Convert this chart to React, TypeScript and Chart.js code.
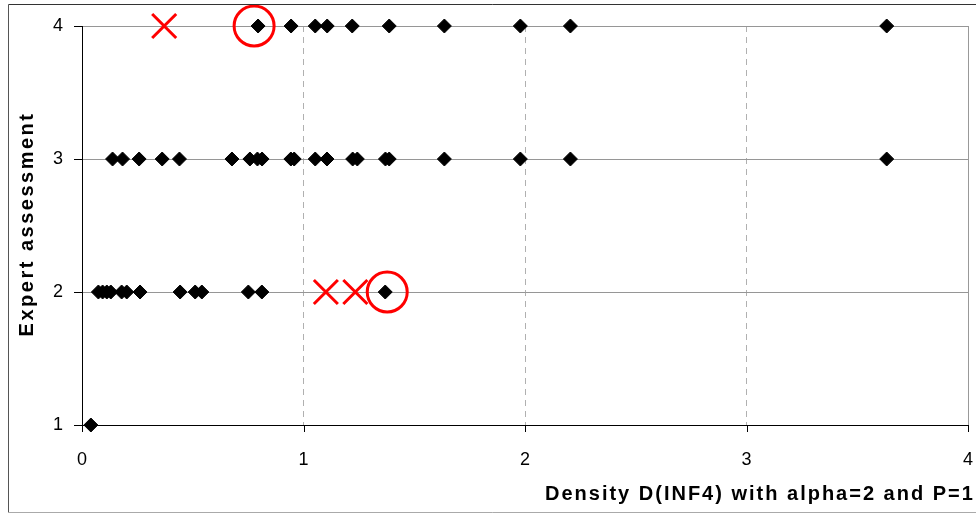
import React, { useEffect, useRef } from 'react';
import { Chart, registerables } from 'chart.js';

Chart.register(...registerables);

// Expert assessment levels and the densities observed at each level
const row4X = [0.795, 0.944, 1.053, 1.107, 1.22, 1.387, 1.636, 1.979, 2.205, 3.633];
const row3X = [0.138, 0.183, 0.258, 0.362, 0.44, 0.677, 0.758, 0.792, 0.813, 0.943, 0.958, 1.053, 1.106, 1.222, 1.243, 1.37, 1.387, 1.636, 1.979, 2.205, 3.633];
const row2X = [0.074, 0.093, 0.112, 0.13, 0.179, 0.202, 0.262, 0.443, 0.511, 0.541, 0.751, 0.812, 1.369];
const row1X = [0.04];

// Red annotation marks
const crossX = [0.371, 1.101, 1.234];
const crossY = [4, 2, 2];
const circleX = [0.777, 1.378];
const circleY = [4, 2];

const xTicks = [0, 1, 2, 3, 4];
const yTicks = [1, 2, 3, 4];
const xTitle = 'Density D(INF4) with alpha=2 and P=1';
const yTitle = 'Expert assessment';

const FONT = '"Liberation Sans", Arial, sans-serif';

const decorPlugin = {
  id: 'decor',
  beforeDatasetsDraw(chart: any) {
    const { ctx, chartArea } = chart;
    ctx.save();
    ctx.strokeStyle = '#999999';
    ctx.lineWidth = 1;
    ctx.beginPath();
    ctx.moveTo(Math.round(chartArea.right) + 0.5, chartArea.top);
    ctx.lineTo(Math.round(chartArea.right) + 0.5, chartArea.bottom);
    ctx.stroke();
    // x tick marks
    const xs = chart.scales.x;
    ctx.strokeStyle = '#000000';
    xTicks.forEach((v) => {
      const px = Math.round(xs.getPixelForValue(v)) + 0.5;
      ctx.beginPath();
      ctx.moveTo(px, chartArea.bottom);
      ctx.lineTo(px, chartArea.bottom + 7);
      ctx.stroke();
    });
    ctx.restore();
  },
  afterDraw(chart: any) {
    const { ctx } = chart;
    ctx.save();
    // outer frame
    ctx.lineWidth = 1;
    ctx.strokeStyle = '#333333';
    ctx.beginPath();
    ctx.moveTo(8.5, 4.5);
    ctx.lineTo(976, 4.5);
    ctx.stroke();
    ctx.strokeStyle = '#555555';
    ctx.beginPath();
    ctx.moveTo(8.5, 4.5);
    ctx.lineTo(8.5, 512.5);
    ctx.stroke();
    ctx.strokeStyle = '#aaaaaa';
    ctx.beginPath();
    ctx.moveTo(8.5, 512.5);
    ctx.lineTo(976, 512.5);
    ctx.stroke();

    ctx.fillStyle = '#000000';
    ctx.font = 'bold 20px ' + FONT;
    (ctx as any).letterSpacing = '2px';
    ctx.textAlign = 'left';
    ctx.textBaseline = 'alphabetic';
    ctx.fillText(xTitle, 545, 500);

    ctx.translate(27, 224);
    ctx.rotate(-Math.PI / 2);
    (ctx as any).letterSpacing = '2.5px';
    ctx.textAlign = 'center';
    ctx.textBaseline = 'middle';
    ctx.fillText(yTitle, 0, 0);
    ctx.restore();
  },
};

export default function App() {
  const ref = useRef<HTMLCanvasElement | null>(null);

  useEffect(() => {
    if (!ref.current) return;
    const pts = [
      ...row4X.map((x) => ({ x, y: 4 })),
      ...row3X.map((x) => ({ x, y: 3 })),
      ...row2X.map((x) => ({ x, y: 2 })),
      ...row1X.map((x) => ({ x, y: 1 })),
    ];
    const chart = new Chart(ref.current, {
      type: 'scatter',
      data: {
        datasets: [
          {
            label: 'circles',
            data: circleX.map((x, i) => ({ x, y: circleY[i] })),
            pointStyle: 'circle',
            pointRadius: 20,
            pointBorderWidth: 3,
            pointBorderColor: '#ff0000',
            pointBackgroundColor: 'rgba(0,0,0,0)',
            clip: false,
          },
          {
            label: 'crosses',
            data: crossX.map((x, i) => ({ x, y: crossY[i] })),
            pointStyle: 'crossRot',
            pointRadius: 17,
            pointBorderWidth: 3,
            pointBorderColor: '#ff0000',
            pointBackgroundColor: '#ff0000',
            clip: false,
          },
          {
            label: 'assessment',
            data: pts,
            pointStyle: 'rectRot',
            pointRadius: 7,
            pointBorderWidth: 1,
            pointBorderColor: '#000000',
            pointBackgroundColor: '#000000',
            clip: false,
          },
        ],
      },
      options: {
        animation: false,
        responsive: true,
        maintainAspectRatio: false,
        events: [],
        layout: { autoPadding: false, padding: { left: 0, top: 26, right: 8, bottom: 0 } },
        plugins: {
          legend: { display: false },
          tooltip: { enabled: false },
        },
        scales: {
          x: {
            type: 'linear',
            min: 0,
            max: 4,
            afterBuildTicks: (scale: any) => {
              scale.ticks = xTicks.map((v) => ({ value: v }));
            },
            afterFit: (scale: any) => {
              scale.height = 89;
            },
            ticks: {
              font: { family: FONT, size: 18 },
              color: '#000000',
              padding: 0,
              maxRotation: 0,
            },
            grid: {
              color: (c: any) => (c.tick && (c.tick.value === 0 || c.tick.value === 4) ? 'rgba(0,0,0,0)' : '#b0b0b0'),
              tickColor: 'rgba(0,0,0,0)',
              tickLength: 24,
              lineWidth: 1,
            },
            border: { display: true, color: '#000000', width: 1, dash: [6, 5] },
          },
          y: {
            type: 'linear',
            min: 1,
            max: 4,
            afterBuildTicks: (scale: any) => {
              scale.ticks = yTicks.map((v) => ({ value: v }));
            },
            afterFit: (scale: any) => {
              scale.width = 82;
            },
            ticks: {
              font: { family: FONT, size: 18 },
              color: '#000000',
              padding: 11,
            },
            grid: {
              color: '#969696',
              tickColor: '#000000',
              tickLength: 8,
              lineWidth: 1,
            },
            border: { display: true, color: '#000000', width: 1 },
          },
        },
      },
      plugins: [decorPlugin],
    });
    return () => chart.destroy();
  }, []);

  return (
    <div style={{ position: 'absolute', left: 0, top: 0, width: 976, height: 514, background: '#ffffff' }}>
      <canvas ref={ref} />
    </div>
  );
}
